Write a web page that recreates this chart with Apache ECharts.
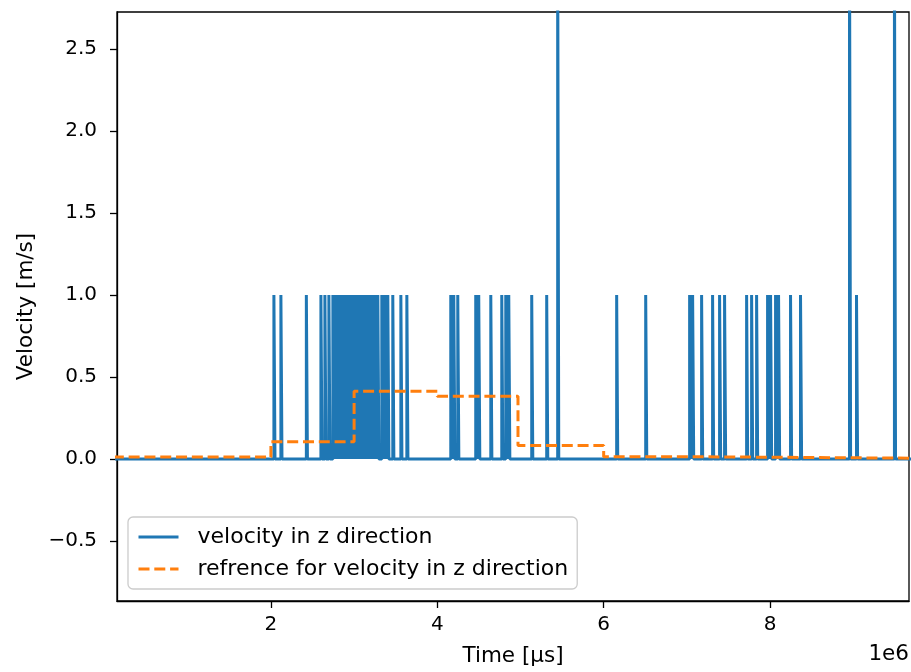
<!DOCTYPE html>
<html>
<head>
<meta charset="utf-8">
<script src="https://cdn.jsdelivr.net/npm/echarts@6/dist/echarts.min.js"></script>
<style>
  html, body { margin: 0; padding: 0; background: #fff; }
  #chart { width: 911px; height: 672px; }
</style>
</head>
<body>
<div id="chart"></div>
<script>
// Measured z velocity: times (µs) where the signal jumps away from 0, and the value it reaches
const spikeTimes = [
  2036000, 2120000, 2426000, 2601000, 2649000, 2697000,
  2745000, 2772000, 2799000, 2826000, 2853000, 2880000, 2907000, 2934000,
  2961000, 2988000, 3015000, 3042000, 3069000, 3096000, 3123000, 3150000,
  3177000, 3204000, 3222000,
  3249000, 3285000, 3333000, 3369000, 3405000, 3465000, 3562000, 3634000,
  4162000, 4198000, 4246000, 4462000, 4498000, 4643000, 4775000, 4823000,
  4859000, 5135000, 5315000, 5447000,
  6156000, 6505000, 7033000, 7069000, 7177000, 7309000, 7393000, 7453000,
  7718000, 7778000, 7838000, 7970000, 8006000, 8066000, 8102000, 8246000,
  8366000, 8955000, 9039000, 9495000
];
const spikeValues = [
  1, 1, 1, 1, 1, 1,
  1, 1, 1, 1, 1, 1, 1, 1,
  1, 1, 1, 1, 1, 1, 1, 1,
  1, 1, 1,
  1, 1, 1, 1, 1, 1, 1, 1,
  1, 1, 1, 1, 1, 1, 1, 1,
  1, 1, 1, 3.2,
  1, 1, 1, 1, 1, 1, 1, 1,
  1, 1, 1, 1, 1, 1, 1, 1,
  1, 3.2, 1, 3.2
];
const signalStart = 100000;
const signalEnd = 9700000;

// Reference profile: piecewise constant, value refValues[i] between refTimes[i] and refTimes[i+1]
const refTimes = [100000, 2000000, 3000000, 4000000, 4970000, 6000000, 7000000, 9700000];
const refValues = [0.012, 0.105, 0.413, 0.382, 0.083, 0.014, 0.005];

// Axis ticks
const xTicks = [2000000, 4000000, 6000000, 8000000];
const yTicks = [-0.5, 0.0, 0.5, 1.0, 1.5, 2.0, 2.5];

const X_MIN = 150000, X_MAX = 9670000;
const Y_MIN = -0.866, Y_MAX = 2.726;

// Build the z-velocity trace: baseline at 0 with narrow pulses
const pulseWidth = 13000;
const velocityData = [[signalStart, 0]];
spikeTimes.forEach((t, i) => {
  const v = spikeValues[i];
  velocityData.push([t, 0], [t, v], [t + pulseWidth, v], [t + pulseWidth, 0]);
});
velocityData.push([signalEnd, 0]);

// Build the reference trace as explicit step corners
const referenceData = [];
for (let i = 0; i < refValues.length; i++) {
  referenceData.push([refTimes[i], refValues[i]], [refTimes[i + 1], refValues[i]]);
}

const FONT = 'DejaVu Sans';
const TICK_FS = 20;
const LABEL_FS = 21.5;
const LEGEND_FS = 22;
const AXIS_W = 1.3;

const chart = echarts.init(document.getElementById('chart'), null, { renderer: 'canvas' });
chart.setOption({
  animation: false,
  backgroundColor: '#ffffff',
  textStyle: { fontFamily: FONT, color: '#000' },
  grid: {
    left: 117, right: 2, top: 12, bottom: 71,
    show: true, borderColor: '#000', borderWidth: AXIS_W, backgroundColor: 'transparent'
  },
  xAxis: {
    type: 'value',
    min: X_MIN, max: X_MAX,
    name: 'Time [µs]',
    nameLocation: 'middle',
    nameGap: 44,
    nameTextStyle: { fontFamily: FONT, fontSize: LABEL_FS, color: '#000' },
    axisLine: { show: true, onZero: false, lineStyle: { color: '#000', width: AXIS_W } },
    axisTick: { show: true, length: 7, lineStyle: { color: '#000', width: AXIS_W }, customValues: xTicks },
    axisLabel: {
      fontFamily: FONT, fontSize: TICK_FS, color: '#000', margin: 14,
      customValues: xTicks,
      formatter: v => String(Math.round(v / 1e6))
    },
    splitLine: { show: false }
  },
  yAxis: {
    type: 'value',
    min: Y_MIN, max: Y_MAX,
    name: 'Velocity [m/s]',
    nameLocation: 'middle',
    nameGap: 79,
    nameTextStyle: { fontFamily: FONT, fontSize: LABEL_FS, color: '#000' },
    axisLine: { show: true, onZero: false, lineStyle: { color: '#000', width: AXIS_W } },
    axisTick: { show: true, length: 7, lineStyle: { color: '#000', width: AXIS_W }, customValues: yTicks },
    axisLabel: {
      fontFamily: FONT, fontSize: TICK_FS, color: '#000', margin: 20,
      customValues: yTicks,
      formatter: v => v.toFixed(1).replace('-', '\u2212')
    },
    splitLine: { show: false }
  },
  legend: {
    orient: 'vertical',
    left: 128, top: 517,
    backgroundColor: 'rgba(255,255,255,0.8)',
    borderColor: '#cccccc', borderWidth: 1.3, borderRadius: 5,
    padding: [8, 9, 8, 9],
    itemWidth: 40, itemHeight: 14, itemGap: 8,
    itemStyle: { color: 'transparent', borderWidth: 0, opacity: 0 },
    lineStyle: { width: 3 },
    textStyle: { fontFamily: FONT, fontSize: LEGEND_FS, color: '#000', lineHeight: 24, padding: [0, 0, 0, 14] },
    data: ['velocity in z direction', 'refrence for velocity in z direction']
  },
  graphic: [
    {
      type: 'text', right: 2, top: 643,
      style: { text: '1e6', fontFamily: FONT, fontSize: LABEL_FS, fill: '#000' }
    }
  ],
  series: [
    {
      name: 'velocity in z direction',
      type: 'line',
      data: velocityData,
      symbol: 'none',
      clip: true,
      color: '#1f77b4',
      lineStyle: { color: '#1f77b4', width: 3 }
    },
    {
      name: 'refrence for velocity in z direction',
      type: 'line',
      data: referenceData,
      symbol: 'none',
      clip: true,
      color: '#ff7f0e',
      lineStyle: { color: '#ff7f0e', width: 3, type: [11, 4.8] }
    }
  ]
});
</script>
</body>
</html>
